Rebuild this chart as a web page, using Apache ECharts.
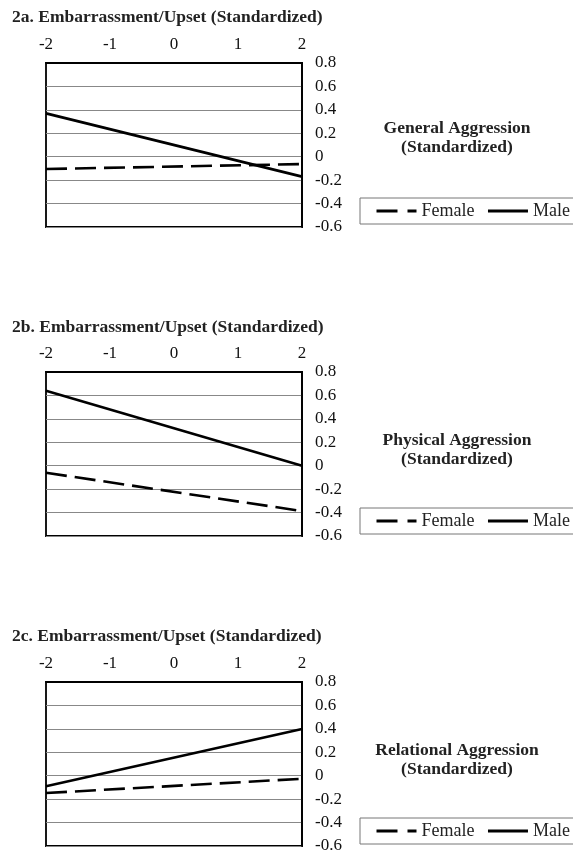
<!DOCTYPE html>
<html>
<head>
<meta charset="utf-8">
<script src="https://cdn.jsdelivr.net/npm/echarts@6/dist/echarts.min.js"></script>
<style>html,body{margin:0;padding:0;background:#fff}#c{width:573px;height:855px}</style>
</head>
<body>
<div id="c"></div>
<script>
// ---- data ----
const xValues = [-2, 2];
const xTicks = [-2, -1, 0, 1, 2];
const yTicks = [-0.6, -0.4, -0.2, 0, 0.2, 0.4, 0.6, 0.8];
const panelTitles = [
  '2a. Embarrassment/Upset (Standardized)',
  '2b. Embarrassment/Upset (Standardized)',
  '2c. Embarrassment/Upset (Standardized)'
];
const outcomeLabels = [
  'General Aggression\n(Standardized)',
  'Physical Aggression\n(Standardized)',
  'Relational Aggression\n(Standardized)'
];
const seriesNames = ['Female', 'Male'];
const femaleA = [-0.105, -0.063];
const maleA   = [0.37, -0.17];
const femaleB = [-0.06, -0.387];
const maleB   = [0.64, 0.0];
const femaleC = [-0.148, -0.026];
const maleC   = [-0.09, 0.398];

const femaleAll = [femaleA, femaleB, femaleC];
const maleAll = [maleA, maleB, maleC];

// ---- layout ----
const FONT = '"Liberation Serif", "Times New Roman", serif';
const gridTops = [63, 372, 682];
const gridH = 164;
const titleTops = [8, 318, 627];
const labelTops = [119, 430.5, 740.5];
const legendTops = [198, 508, 818];

const noSym = {color: 'rgba(0,0,0,0)', borderColor: 'rgba(0,0,0,0)', borderWidth: 0, opacity: 0};

const grids = [], xAxes = [], yAxes = [], series = [], titles = [], legends = [], graphics = [];
for (let i = 0; i < 3; i++) {
  grids.push({left: 46, width: 256, top: gridTops[i], height: gridH,
    show: true, borderColor: '#000', borderWidth: 1.8, backgroundColor: '#fff'});
  xAxes.push({type: 'value', gridIndex: i, position: 'top', min: xTicks[0], max: xTicks[xTicks.length-1], interval: 1,
    axisLine: {show: true, onZero: false, lineStyle: {color: '#000', width: 1.8}}, axisTick: {show: false},
    splitLine: {show: false},
    axisLabel: {color: '#111', fontFamily: FONT, fontSize: 17, margin: 10, formatter: v => String(v)}});
  yAxes.push({type: 'value', gridIndex: i, position: 'right', min: yTicks[0], max: yTicks[yTicks.length-1], interval: 0.2,
    axisLine: {show: true, onZero: false, lineStyle: {color: '#000', width: 1.8}}, axisTick: {show: false},
    splitLine: {show: true, lineStyle: {color: '#888', width: 1}},
    axisLabel: {color: '#111', fontFamily: FONT, fontSize: 17, margin: 13, align: 'left',
      formatter: v => { const r = Math.round(v*10)/10; return r === 0 ? '0' : r.toFixed(1); }}});
  series.push({name: seriesNames[0], type: 'line', xAxisIndex: i, yAxisIndex: i, symbol: 'none',
    data: xValues.map((x, k) => [x, femaleAll[i][k]]),
    lineStyle: {color: '#000', width: 2.6, type: [21, 8]}, itemStyle: {color: '#000'}});
  series.push({name: seriesNames[1], type: 'line', xAxisIndex: i, yAxisIndex: i, symbol: 'none',
    data: xValues.map((x, k) => [x, maleAll[i][k]]),
    lineStyle: {color: '#000', width: 2.6, type: 'solid'}, itemStyle: {color: '#000'}});
  titles.push({text: panelTitles[i], left: 12, top: titleTops[i], padding: 0,
    textStyle: {fontFamily: FONT, fontSize: 17.5, fontWeight: 'bold', color: '#222'}});
  legends.push({left: 360, top: legendTops[i], orient: 'horizontal', width: 320,
    data: [{name: 'Female', lineStyle: {type: [21, 10], width: 3}, itemStyle: noSym},
           {name: 'Male', lineStyle: {width: 3}, itemStyle: noSym}],
    itemWidth: 40, itemHeight: 14, itemGap: 12,
    padding: [4, 40, 4, 15], borderColor: '#777', borderWidth: 1,
    selectedMode: false,
    textStyle: {fontFamily: FONT, fontSize: 18, color: '#222'}});
  graphics.push({type: 'text', x: 457, y: labelTops[i],
    style: {text: outcomeLabels[i], textAlign: 'center', textVerticalAlign: 'top',
      font: 'bold 17.5px ' + FONT, lineHeight: 19, fill: '#222'}});
}

const chart = echarts.init(document.getElementById('c'), null, {renderer: 'canvas'});
chart.setOption({
  animation: false,
  backgroundColor: '#fff',
  title: titles,
  legend: legends,
  grid: grids,
  xAxis: xAxes,
  yAxis: yAxes,
  series: series,
  graphic: graphics
});
</script>
</body>
</html>
